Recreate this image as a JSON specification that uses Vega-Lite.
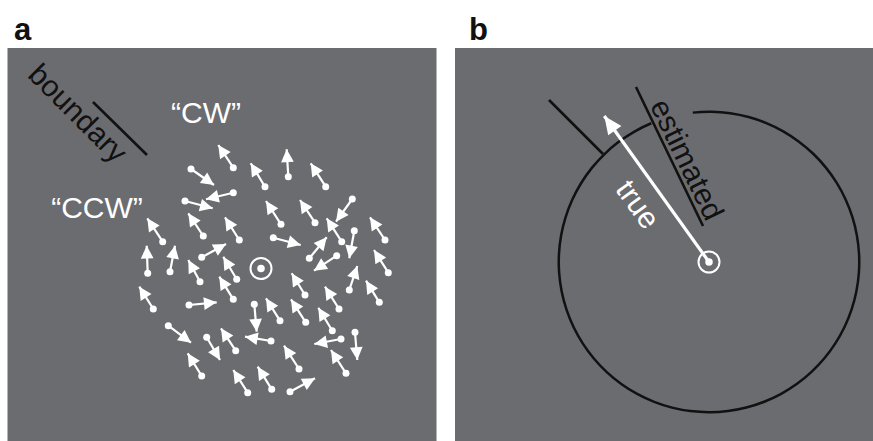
{
  "$schema": "https://vega.github.io/schema/vega-lite/v6.json",
  "width": 873,
  "height": 441,
  "autosize": {"type": "fit", "contains": "padding"},
  "padding": 0,
  "background": "white",
  "config": {"view": {"stroke": null}},
  "datasets": {
    "panels": [
      {"panel": "a", "x": 7.5, "x2": 436.5, "y": 48, "y2": 441},
      {"panel": "b", "x": 455, "x2": 873, "y": 48, "y2": 441}
    ],
    "arrows": [
      {"x": 233.3, "y": 167.7, "x2": 218.3, "y2": 145, "ang": -33.5},
      {"x": 288.3, "y": 176.7, "x2": 286.7, "y2": 149.3, "ang": -3.3},
      {"x": 265, "y": 186.7, "x2": 250.7, "y2": 163.3, "ang": -31.4},
      {"x": 325.7, "y": 186.7, "x2": 310.7, "y2": 163.3, "ang": -32.7},
      {"x": 191, "y": 169, "x2": 214, "y2": 185, "ang": 124.8},
      {"x": 233.3, "y": 192.7, "x2": 206, "y2": 199.3, "ang": -103.6},
      {"x": 185, "y": 201, "x2": 212.7, "y2": 208.3, "ang": 104.8},
      {"x": 352.3, "y": 199, "x2": 336, "y2": 221.7, "ang": -144.3},
      {"x": 281, "y": 224.3, "x2": 266, "y2": 201, "ang": -32.8},
      {"x": 315, "y": 222.7, "x2": 300, "y2": 200, "ang": -33.5},
      {"x": 203.3, "y": 236, "x2": 188.3, "y2": 213.3, "ang": -33.5},
      {"x": 239.3, "y": 240, "x2": 225, "y2": 217.3, "ang": -32.2},
      {"x": 162.7, "y": 241.7, "x2": 147.3, "y2": 218.3, "ang": -33.3},
      {"x": 273.3, "y": 237.7, "x2": 300.7, "y2": 245, "ang": 104.9},
      {"x": 341.7, "y": 241.7, "x2": 326.7, "y2": 218.3, "ang": -32.7},
      {"x": 385, "y": 240, "x2": 370, "y2": 217.3, "ang": -33.5},
      {"x": 354.3, "y": 230.7, "x2": 349.3, "y2": 258.3, "ang": -169.7},
      {"x": 309.3, "y": 258.3, "x2": 326.7, "y2": 237.3, "ang": 39.6},
      {"x": 201.7, "y": 257.3, "x2": 226, "y2": 244, "ang": 61.3},
      {"x": 336.7, "y": 255.7, "x2": 314, "y2": 270.7, "ang": -123.5},
      {"x": 147.7, "y": 273.3, "x2": 146.7, "y2": 245.7, "ang": -2.1},
      {"x": 170, "y": 271.7, "x2": 175, "y2": 245.7, "ang": 10.9},
      {"x": 388.3, "y": 272.7, "x2": 374, "y2": 250, "ang": -32.2},
      {"x": 349.3, "y": 290, "x2": 357.3, "y2": 266, "ang": 18.4},
      {"x": 200, "y": 281.7, "x2": 188.3, "y2": 260, "ang": -28.3},
      {"x": 236.7, "y": 279.3, "x2": 223.3, "y2": 256.7, "ang": -30.7},
      {"x": 305, "y": 295, "x2": 291.7, "y2": 273.3, "ang": -31.5},
      {"x": 379.3, "y": 302.3, "x2": 366, "y2": 280.7, "ang": -31.6},
      {"x": 153.3, "y": 309, "x2": 139.3, "y2": 286.7, "ang": -32.1},
      {"x": 233.3, "y": 299.3, "x2": 219.3, "y2": 276.7, "ang": -31.8},
      {"x": 189, "y": 305, "x2": 216.7, "y2": 302.3, "ang": 84.4},
      {"x": 254.3, "y": 304.3, "x2": 256.7, "y2": 331.7, "ang": 175},
      {"x": 280, "y": 320.7, "x2": 266, "y2": 298.3, "ang": -32},
      {"x": 305.7, "y": 322.3, "x2": 291, "y2": 299.3, "ang": -32.6},
      {"x": 339, "y": 309, "x2": 325, "y2": 286.7, "ang": -32.1},
      {"x": 332.3, "y": 330.7, "x2": 318.3, "y2": 307.7, "ang": -31.3},
      {"x": 168.3, "y": 325.7, "x2": 191, "y2": 342.7, "ang": 126.8},
      {"x": 206.7, "y": 337.3, "x2": 220, "y2": 360, "ang": 149.6},
      {"x": 235.7, "y": 350.7, "x2": 221, "y2": 328.3, "ang": -33.3},
      {"x": 271, "y": 341, "x2": 245, "y2": 336.7, "ang": -80.6},
      {"x": 341, "y": 339, "x2": 314.3, "y2": 344, "ang": -100.6},
      {"x": 355, "y": 332.3, "x2": 357.3, "y2": 360, "ang": 175.3},
      {"x": 299, "y": 369, "x2": 284, "y2": 345.7, "ang": -32.8},
      {"x": 346, "y": 373.3, "x2": 331, "y2": 350, "ang": -32.8},
      {"x": 201.7, "y": 376, "x2": 187.7, "y2": 353.3, "ang": -31.7},
      {"x": 247.7, "y": 392.7, "x2": 233.3, "y2": 370, "ang": -32.4},
      {"x": 271.7, "y": 389.3, "x2": 257.7, "y2": 366.7, "ang": -31.8},
      {"x": 290, "y": 391.7, "x2": 315, "y2": 378.3, "ang": 61.8}
    ],
    "blacklines": [
      {"name": "boundary a", "x": 93, "y": 102, "x2": 147, "y2": 155},
      {"name": "boundary b", "x": 549, "y": 100, "x2": 603, "y2": 154},
      {"name": "estimated", "x": 636, "y": 87, "x2": 703, "y2": 226}
    ],
    "truearrow": [
      {"x": 709, "y": 262, "x2": 604.3, "y2": 116, "ang": -35.7}
    ],
    "circle": [
      {"x": 709, "y": 262, "t0": -0.108, "t1": 5.889}
    ],
    "fixation": [
      {"panel": "a", "x": 261, "y": 268.5},
      {"panel": "b", "x": 709, "y": 262}
    ],
    "panelLabels": [
      {"label": "a", "x": 14, "y": 40},
      {"label": "b", "x": 469, "y": 40}
    ],
    "whiteText": [
      {"label": "\u201cCW\u201d", "x": 206, "y": 114, "angle": 0},
      {"label": "\u201cCCW\u201d", "x": 97, "y": 209, "angle": 0},
      {"label": "true", "x": 637, "y": 205, "angle": 54}
    ],
    "blackText": [
      {"label": "boundary", "x": 77, "y": 114, "angle": 45},
      {"label": "estimated", "x": 686, "y": 160, "angle": 64}
    ]
  },
  "encoding": {
    "x": {"field": "x", "type": "quantitative", "scale": {"domain": [0, 873], "nice": false, "zero": false}, "axis": null},
    "y": {"field": "y", "type": "quantitative", "scale": {"domain": [0, 441], "nice": false, "zero": false, "reverse": true}, "axis": null}
  },
  "layer": [
    {
      "data": {"name": "panels"},
      "mark": {"type": "rect", "color": "#6b6c70"},
      "encoding": {"x2": {"field": "x2"}, "y2": {"field": "y2"}}
    },
    {
      "data": {"name": "arrows"},
      "mark": {"type": "rule", "color": "white", "strokeWidth": 2.2},
      "encoding": {"x2": {"field": "x2"}, "y2": {"field": "y2"}}
    },
    {
      "data": {"name": "arrows"},
      "mark": {"type": "point", "shape": "circle", "filled": true, "color": "white", "opacity": 1, "size": 49},
      "encoding": {}
    },
    {
      "data": {"name": "arrows"},
      "mark": {"type": "point", "shape": "M0,0L0.5,1L-0.5,1Z", "filled": true, "color": "white", "opacity": 1, "size": 650},
      "encoding": {
        "x": {"field": "x2", "type": "quantitative"},
        "y": {"field": "y2", "type": "quantitative"},
        "angle": {"field": "ang", "type": "quantitative", "scale": null}
      }
    },
    {
      "data": {"name": "blacklines"},
      "mark": {"type": "rule", "color": "#111111", "strokeWidth": 2.6},
      "encoding": {"x2": {"field": "x2"}, "y2": {"field": "y2"}}
    },
    {
      "data": {"name": "circle"},
      "mark": {"type": "arc", "color": "#111111", "radius": 151.5, "radius2": 149},
      "encoding": {
        "theta": {"field": "t0", "type": "quantitative", "scale": null, "stack": null},
        "theta2": {"field": "t1"}
      }
    },
    {
      "data": {"name": "truearrow"},
      "mark": {"type": "rule", "color": "white", "strokeWidth": 3.2},
      "encoding": {"x2": {"field": "x2"}, "y2": {"field": "y2"}}
    },
    {
      "data": {"name": "truearrow"},
      "mark": {"type": "point", "shape": "M0,0L0.45,1L-0.45,1Z", "filled": true, "color": "white", "opacity": 1, "size": 1300},
      "encoding": {
        "x": {"field": "x2", "type": "quantitative"},
        "y": {"field": "y2", "type": "quantitative"},
        "angle": {"field": "ang", "type": "quantitative", "scale": null}
      }
    },
    {
      "data": {"name": "fixation"},
      "mark": {"type": "point", "shape": "circle", "filled": false, "color": "white", "opacity": 1, "strokeWidth": 2, "size": 441},
      "encoding": {}
    },
    {
      "data": {"name": "fixation"},
      "mark": {"type": "point", "shape": "circle", "filled": true, "color": "white", "opacity": 1, "size": 56},
      "encoding": {}
    },
    {
      "data": {"name": "panelLabels"},
      "mark": {"type": "text", "font": "Liberation Sans", "fontWeight": "bold", "fontSize": 31, "color": "#111111", "align": "left", "baseline": "alphabetic"},
      "encoding": {"text": {"field": "label"}}
    },
    {
      "data": {"name": "whiteText"},
      "mark": {"type": "text", "font": "Liberation Sans", "fontSize": 30, "color": "white", "align": "center", "baseline": "middle"},
      "encoding": {"text": {"field": "label"}, "angle": {"field": "angle", "type": "quantitative", "scale": null}}
    },
    {
      "data": {"name": "blackText"},
      "mark": {"type": "text", "font": "Liberation Sans", "fontSize": 30, "color": "#111111", "align": "center", "baseline": "middle"},
      "encoding": {"text": {"field": "label"}, "angle": {"field": "angle", "type": "quantitative", "scale": null}}
    }
  ]
}
